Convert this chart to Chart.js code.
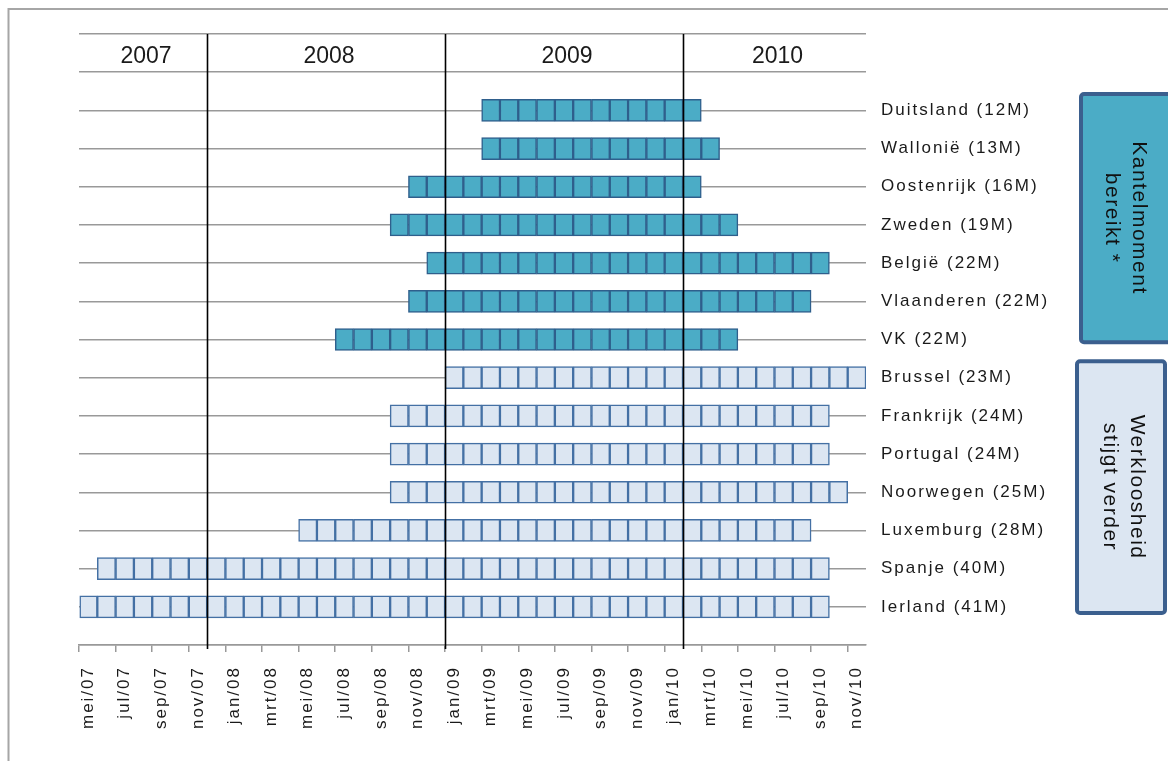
<!DOCTYPE html>
<html>
<head>
<meta charset="utf-8">
<script src="https://cdn.jsdelivr.net/npm/chart.js@4/dist/chart.umd.min.js"></script>
<style>
  html, body { margin: 0; padding: 0; background: #fff; }
  #wrap { width: 1168px; height: 761px; }
</style>
</head>
<body>
<div id="wrap"><canvas id="chart" width="1168" height="761"></canvas></div>
<script>
// months are counted from mei 2007 (0 = mei/07)
const countries = ['Duitsland (12M)', 'Wallonië (13M)', 'Oostenrijk (16M)', 'Zweden (19M)', 'België (22M)',
    'Vlaanderen (22M)', 'VK (22M)', 'Brussel (23M)', 'Frankrijk (24M)', 'Portugal (24M)',
    'Noorwegen (25M)', 'Luxemburg (28M)', 'Spanje (40M)', 'Ierland (41M)'];
const startMonth = [22, 22, 18, 17, 19, 18, 14, 20, 17, 17, 17, 12, 1, 0];
const durationMonths = [12, 13, 16, 19, 22, 22, 22, 23, 24, 24, 25, 28, 40, 41];
const tippingReached = [true, true, true, true, true, true, true, false, false, false, false, false, false, false];

const tickLabels = ['mei/07', 'jul/07', 'sep/07', 'nov/07', 'jan/08', 'mrt/08', 'mei/08', 'jul/08', 'sep/08', 'nov/08',
    'jan/09', 'mrt/09', 'mei/09', 'jul/09', 'sep/09', 'nov/09', 'jan/10', 'mrt/10', 'mei/10', 'jul/10', 'sep/10', 'nov/10'];
const years = ['2007', '2008', '2009', '2010'];
const yearLines = [7, 20, 33];
const totalMonths = 43;
const firstRow = 2; // two header rows above the countries

const tealFill = '#4BACC6', tealBorder = '#2F5F8C';
const lightFill = '#DCE6F2', lightBorder = '#4470A4';

// one dataset per month, so every month is its own cell
const datasets = [];
for (let m = 0; m < totalMonths; m++) {
    const data = [];
    countries.forEach((c, i) => {
        if (m >= startMonth[i] && m < startMonth[i] + durationMonths[i]) {
            data.push({ x: [m, m + 1], y: i + firstRow, teal: tippingReached[i] });
        }
    });
    datasets.push({
        data: data,
        backgroundColor: ctx => ctx.raw && ctx.raw.teal ? tealFill : lightFill,
        borderColor: ctx => ctx.raw && ctx.raw.teal ? tealBorder : lightBorder,
        borderWidth: 1.5,
        borderSkipped: false,
        barThickness: 22,
        grouped: false
    });
}

const spacing = {
    id: 'spacing',
    beforeLayout(chart) { chart.ctx.letterSpacing = '2px'; },
    beforeDraw(chart) { chart.ctx.letterSpacing = '2px'; }
};

const extras = {
    id: 'extras',
    beforeDraw(chart) {
        const ctx = chart.ctx;
        ctx.save();
        ctx.strokeStyle = '#A6A6A6';
        ctx.lineWidth = 2;
        ctx.strokeRect(8.5, 9, 1200, 800);
        ctx.restore();
    },
    afterDatasetsDraw(chart) {
        const ctx = chart.ctx;
        const xs = chart.scales.x, ys = chart.scales.y;
        ctx.save();
        // year separators
        ctx.strokeStyle = '#000';
        ctx.lineWidth = 1.6;
        yearLines.forEach(v => {
            const px = Math.round(xs.getPixelForValue(v)) + 0.5;
            ctx.beginPath();
            ctx.moveTo(px, ys.getPixelForValue(0));
            ctx.lineTo(px, ys.getPixelForValue(16) + 4);
            ctx.stroke();
        });
        // year labels
        ctx.letterSpacing = '0px';
        ctx.fillStyle = '#1a1a1a';
        ctx.font = '23px "Liberation Sans", Arial, sans-serif';
        ctx.textAlign = 'center';
        ctx.textBaseline = 'middle';
        const bounds = [0].concat(yearLines, [totalMonths]);
        years.forEach((y, i) => {
            const cx = (xs.getPixelForValue(bounds[i]) + xs.getPixelForValue(bounds[i + 1])) / 2;
            ctx.fillText(y, cx + 3, ys.getPixelForValue(0.6));
        });
        ctx.restore();
    },
    afterDraw(chart) {
        const ctx = chart.ctx;
        const ys = chart.scales.y;
        const box = (x1, x2, r1, r2, fill, lines) => {
            const y1 = ys.getPixelForValue(r1), y2 = ys.getPixelForValue(r2);
            ctx.save();
            ctx.fillStyle = fill;
            ctx.strokeStyle = '#3B5F8E';
            ctx.lineWidth = 4;
            ctx.beginPath();
            ctx.roundRect(x1, y1, x2 - x1, y2 - y1, 3);
            ctx.fill();
            ctx.stroke();
            ctx.translate((x1 + Math.min(x2, 1166)) / 2 + 2, (y1 + y2) / 2);
            ctx.rotate(Math.PI / 2);
            ctx.letterSpacing = '1.5px';
            ctx.fillStyle = '#111';
            ctx.font = '21px "Liberation Sans", Arial, sans-serif';
            ctx.textAlign = 'center';
            ctx.textBaseline = 'middle';
            lines.forEach((t, i) => {
                ctx.fillText(t, 0, (i - (lines.length - 1) / 2) * 27);
            });
            ctx.restore();
        };
        box(1081, 1174, 1.57, 8.07, tealFill, ['Kantelmoment', 'bereikt *']);
        box(1077, 1165, 8.57, 15.16, lightFill, ['Werkloosheid', 'stijgt verder']);
    }
};

new Chart(document.getElementById('chart').getContext('2d'), {
    type: 'bar',
    data: { datasets: datasets },
    plugins: [spacing, extras],
    options: {
        indexAxis: 'y',
        responsive: false,
        animation: false,
        layout: { padding: { left: 79, top: 34, right: 0, bottom: 0 } },
        plugins: { legend: { display: false }, tooltip: { enabled: false } },
        scales: {
            x: {
                type: 'linear',
                min: 0,
                max: totalMonths,
                offset: false,
                afterBuildTicks: scale => {
                    scale.ticks = tickLabels.map((t, i) => ({ value: i * 2 }));
                },
                afterFit: scale => { scale.height = 116; },
                grid: { offset: false, drawOnChartArea: false, drawTicks: true, tickLength: 7, color: '#999', lineWidth: 1.5 },
                border: { display: true, color: '#999', width: 1.5 },
                ticks: {
                    autoSkip: false,
                    minRotation: 90,
                    maxRotation: 90,
                    labelOffset: 9,
                    padding: 14,
                    color: '#1a1a1a',
                    font: { family: '"Liberation Sans", Arial, sans-serif', size: 17 },
                    callback: (v, i) => tickLabels[i]
                }
            },
            y: {
                type: 'linear',
                position: 'right',
                reverse: true,
                min: 0,
                max: 16,
                offset: false,
                afterFit: scale => { scale.width = 302; },
                grid: { offset: false, drawTicks: false, color: '#999', lineWidth: 1.5 },
                border: { display: false },
                ticks: {
                    stepSize: 1,
                    autoSkip: false,
                    padding: 15,
                    color: '#1a1a1a',
                    font: { family: '"Liberation Sans", Arial, sans-serif', size: 17 },
                    callback: v => (v >= firstRow && v < firstRow + countries.length) ? countries[v - firstRow] : ''
                }
            }
        }
    }
});
</script>
</body>
</html>
